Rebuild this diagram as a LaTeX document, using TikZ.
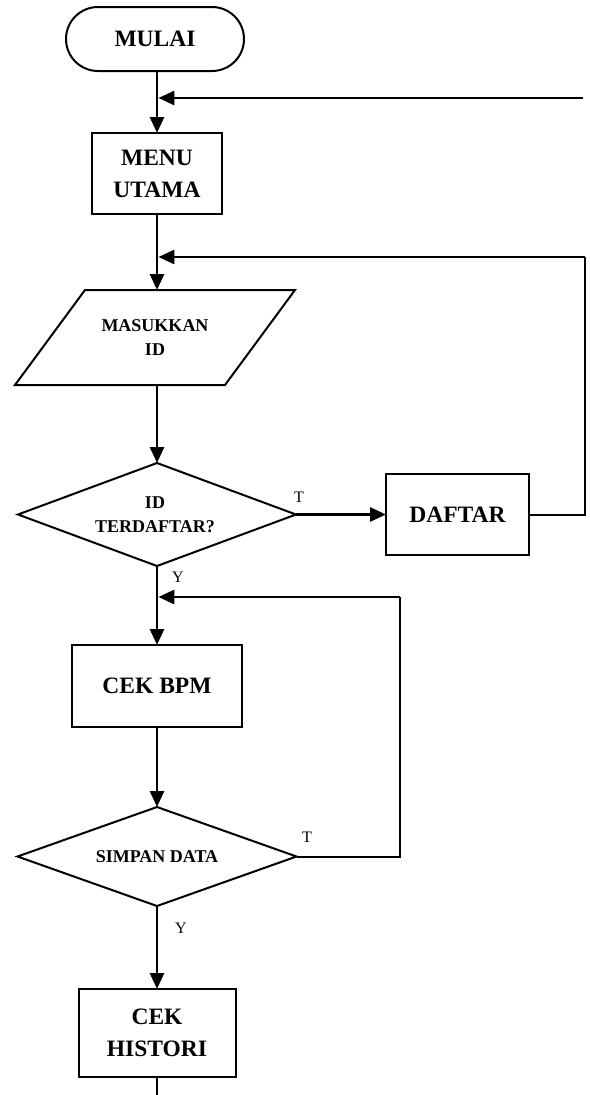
\documentclass[tikz,border=0pt]{standalone}
\usepackage{fontspec}
\setmainfont{Liberation Serif}
\usetikzlibrary{arrows.meta,shapes.geometric,calc}

\begin{document}
\begin{tikzpicture}[x=1pt,y=-1pt,
  big/.style={font=\fontsize{23.5}{32}\selectfont\bfseries},
  small/.style={font=\fontsize{18}{24}\selectfont\bfseries},
  term/.style={draw,line width=2pt,rounded corners=32pt,minimum width=178pt,minimum height=64pt,outer sep=0pt,big},
  proc/.style={draw,line width=2pt,outer sep=0pt,align=center,big},
  dia/.style={draw,diamond,line width=2pt,inner sep=0pt,outer sep=0pt},
  io/.style={inner sep=0pt,outer sep=0pt,minimum width=280pt,minimum height=95pt,align=center,small},
  lbl/.style={font=\fontsize{16}{18}\selectfont,inner sep=0pt},
  flow/.style={line width=2.8pt,-{Triangle[length=16pt,width=14pt]}},
  back/.style={line width=2pt},
  tailline/.style={line width=2.8pt},
]
\useasboundingbox (0,0) rectangle (589,1095);

% nodes
\node[term] (mulai) at (155,39) {MULAI};
\node[proc,minimum width=130pt,minimum height=81pt] (menu) at (157,173.5) {MENU\\UTAMA};
\node[io] (inp) at (155,337.5) {MASUKKAN\\ID};
\draw[back] ($(inp.north west)+(70,0)$) -- (inp.north east)
  -- ($(inp.south east)+(-70,0)$) -- (inp.south west) -- cycle;
\node[dia,minimum width=278pt,minimum height=103pt] (d1) at (157,514.5) {};
\node[small,align=center] (d1t) at (155,514.5) {ID\\TERDAFTAR?};
\node[proc,minimum width=143pt,minimum height=81pt] (daftar) at (457.5,514.5) {DAFTAR};
\node[proc,minimum width=170pt,minimum height=82pt] (bpm) at (157,686) {CEK BPM};
\node[dia,minimum width=279pt,minimum height=99pt] (d2) at (157,856.5) {};
\node[small] (d2t) at (157,856.5) {SIMPAN DATA};
\node[proc,minimum width=157pt,minimum height=88pt] (hist) at (157,1033) {CEK\\HISTORI};

% branch labels
\node[lbl] (t1) at (299,497) {T};
\node[lbl] (y1) at (178,577) {Y};
\node[lbl] (t2) at (307,837) {T};
\node[lbl] (y2) at (181,928) {Y};

% loop corners and join points
\coordinate (topin) at (583,98);
\coordinate (j1) at (157,98);
\coordinate (c1) at (585,257);
\coordinate (j2) at (157,257);
\coordinate (c2) at (400,597);
\coordinate (j3) at (157,597);
\coordinate (tail) at (157,1095);

% connectors
\draw[flow] (mulai.south -| menu.north) -- (menu.north);
\draw[flow] (topin) -- ([xshift=1.4pt]j1);
\draw[flow] (menu.south) -- (menu.south |- inp.north);
\draw[back] (daftar.east) -| (c1);
\draw[flow] (c1) -- ([xshift=1.4pt]j2);
\draw[flow] (menu.south |- inp.south) -- (d1.north);
\draw[flow] (d1.east) -- (daftar.west);
\draw[flow] (d1.south) -- (bpm.north);
\draw[back] (d2.east) -| (c2);
\draw[flow] (c2) -- ([xshift=1.4pt]j3);
\draw[flow] (bpm.south) -- (d2.north);
\draw[flow] (d2.south) -- (hist.north);
\draw[tailline] (hist.south) -- (tail);
\end{tikzpicture}
\end{document}
